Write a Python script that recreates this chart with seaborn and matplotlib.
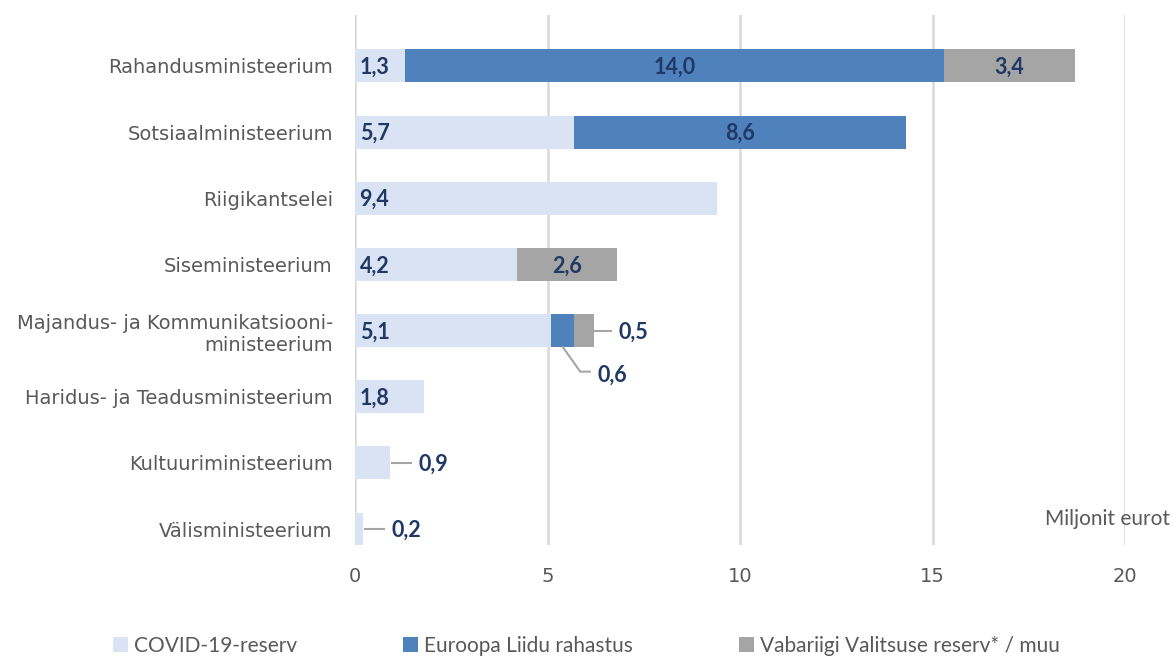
import matplotlib.pyplot as plt
from matplotlib.patches import Patch
import numpy as np
import pandas as pd
import seaborn as sb

# Ministries and their allocations (million euros)
ministries = ["Rahandusministeerium", "Sotsiaalministeerium", "Riigikantselei",
              "Siseministeerium", "Majandus- ja Kommunikatsiooni-\nministeerium",
              "Haridus- ja Teadusministeerium", "Kultuuriministeerium", "Välisministeerium"]
covid = [1.3, 5.7, 9.4, 4.2, 5.1, 1.8, 0.9, 0.2]
eu = [14.0, 8.6, 0.0, 0.0, 0.6, 0.0, 0.0, 0.0]
reserve = [3.4, 0.0, 0.0, 2.6, 0.5, 0.0, 0.0, 0.0]
series_names = ["COVID-19-reserv", "Euroopa Liidu rahastus", "Vabariigi Valitsuse reserv* / muu"]
colours = ["#DAE3F3", "#4F81BD", "#A5A5A5"]
label_col = "#1F3864"
text_col = "#595959"

df = pd.DataFrame({"ministry": ministries, "covid": covid, "eu": eu, "reserve": reserve})
df["ce"] = df["covid"] + df["eu"]
df["total"] = df["ce"] + df["reserve"]

fig = plt.figure(figsize=(11.73, 6.59), dpi=100)
ax = fig.add_axes([355 / 1173, 1 - 545 / 659, 770 / 1173, 530 / 659])
plt.rcParams["font.family"] = ["Lato", "DejaVu Sans"]

# stacked bars: draw cumulative totals from largest to smallest
for col, c in zip(["total", "ce", "covid"], colours[::-1]):
    sb.barplot(data=df, x=col, y="ministry", order=ministries, orient="h", color=c,
               saturation=1, width=0.5, linewidth=0, ax=ax, zorder=3)

ax.set_xlim(0, 20)
ax.set_ylim(7.24, -0.77)
ax.set_xticks([0, 5, 10, 15, 20])
ax.grid(axis="x", color="#D9D9D9", linewidth=1.8, zorder=0)
ax.grid(axis="y", visible=False)
ax.set_axisbelow(True)
for s in ax.spines.values():
    s.set_visible(False)
ax.set_xlabel("")
ax.set_ylabel("")
ax.tick_params(axis="both", length=0, labelsize=14, colors=text_col)
ax.tick_params(axis="x", pad=16)
ax.tick_params(axis="y", pad=16)
for t in ax.get_yticklabels():
    t.set_multialignment("right")

fmt = lambda v: f"{v:.1f}".replace(".", ",")
lab = dict(fontsize=15.5, fontweight="bold", color=label_col, va="center", zorder=5)
line = dict(color="#A5A5A5", linewidth=1.5, zorder=4, clip_on=False)

for i, r in df.iterrows():
    if r["total"] < 1.5:
        ax.plot([r["covid"] + 0.05, r["covid"] + 0.55], [i, i], **line)
        ax.text(r["covid"] + 0.75, i + 0.02, fmt(r["covid"]), ha="left", **lab)
        continue
    ax.text(0.12, i + 0.02, fmt(r["covid"]), ha="left", **lab)
    if r["eu"] >= 2:
        ax.text((r["covid"] + r["ce"]) / 2, i + 0.02, fmt(r["eu"]), ha="center", **lab)
    elif r["eu"] > 0:
        xm = (r["covid"] + r["ce"]) / 2
        ax.plot([xm, xm + 0.45, xm + 0.7], [i + 0.25, i + 0.62, i + 0.62], **line)
        ax.text(xm + 0.9, i + 0.68, fmt(r["eu"]), ha="left", **lab)
    if r["reserve"] >= 2:
        ax.text((r["ce"] + r["total"]) / 2, i + 0.02, fmt(r["reserve"]), ha="center", **lab)
    elif r["reserve"] > 0:
        ax.plot([r["total"], r["total"] + 0.45], [i, i], **line)
        ax.text(r["total"] + 0.65, i + 0.02, fmt(r["reserve"]), ha="left", **lab)

ax.text(21.17, 6.85, "Miljonit eurot", ha="right", va="center", fontsize=15,
        color=text_col, clip_on=False)

handles = [Patch(facecolor=c, edgecolor="none") for c in colours]
fig.legend(handles, series_names, loc="center", bbox_to_anchor=(0.5, 0.02), ncol=3,
           frameon=False, fontsize=15, labelcolor=text_col, handlelength=0.7,
           handleheight=0.7, handletextpad=0.3, columnspacing=5.1)

fig.savefig("out.png", dpi=100)
